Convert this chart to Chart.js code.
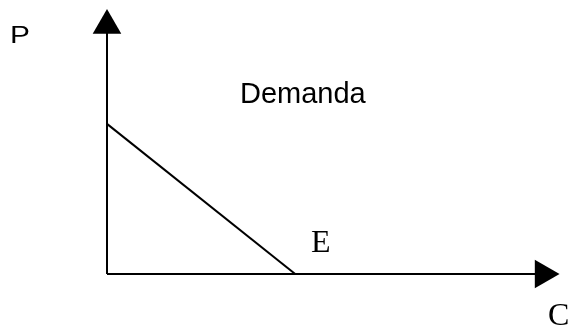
<!DOCTYPE html>
<html>
<head>
<meta charset="utf-8">
<script src="https://cdn.jsdelivr.net/npm/chart.js@4"></script>
<style>
  html, body { margin: 0; padding: 0; background: #ffffff; }
  #wrap { position: relative; width: 574px; height: 325px; overflow: hidden; }
  canvas { position: absolute; left: 0; top: 0; }
  .lbl { position: absolute; line-height: 1; color: #000; white-space: nowrap; }
  .sans { font-family: "Liberation Sans", Arial, sans-serif; }
  .serif { font-family: "Liberation Serif", "Times New Roman", serif; }
</style>
</head>
<body>
<div id="wrap">
  <canvas id="c" width="574" height="325"></canvas>
  <div class="lbl sans" style="left:10px; top:24px; font-size:23px; transform:scaleX(1.3); transform-origin:0 0;">P</div>
  <div class="lbl sans" style="left:240px; top:79px; font-size:29px;">Demanda</div>
  <div class="lbl serif" style="left:311px; top:225px; font-size:32px;">E</div>
  <div class="lbl serif" style="left:548px; top:298px; font-size:32px;">C</div>
</div>
<script>
// Data (arbitrary units 0..100)
const demandQuantity = [0, 41];
const demandPrice = [55.6, 0];
const priceAxisX = [0, 0];
const priceAxisY = [0, 92];
const quantityAxisX = [0, 95];
const quantityAxisY = [0, 0];
const scaleMax = 100;

const toPoints = (xs, ys) => xs.map((x, i) => ({ x: x, y: ys[i] }));

new Chart(document.getElementById('c'), {
  type: 'scatter',
  data: {
    datasets: [
      {
        label: 'P',
        data: toPoints(priceAxisX, priceAxisY),
        showLine: true,
        borderColor: '#000',
        borderWidth: 2,
        pointStyle: 'triangle',
        pointRadius: [0, 16.5],
        pointBackgroundColor: '#000',
        pointBorderColor: '#000',
        pointBorderWidth: 0,
        clip: false
      },
      {
        label: 'C',
        data: toPoints(quantityAxisX, quantityAxisY),
        showLine: true,
        borderColor: '#000',
        borderWidth: 2,
        pointStyle: 'triangle',
        pointRotation: 90,
        pointRadius: [0, 16.5],
        pointBackgroundColor: '#000',
        pointBorderColor: '#000',
        pointBorderWidth: 0,
        clip: false
      },
      {
        label: 'Demanda',
        data: toPoints(demandQuantity, demandPrice),
        showLine: true,
        borderColor: '#000',
        borderWidth: 2,
        pointRadius: 0,
        clip: false
      }
    ]
  },
  options: {
    responsive: false,
    animation: false,
    events: [],
    devicePixelRatio: 1,
    layout: { autoPadding: false, padding: { left: 107, right: 8, top: 4, bottom: 51 } },
    plugins: { legend: { display: false }, tooltip: { enabled: false }, title: { display: false } },
    scales: {
      x: { type: 'linear', min: 0, max: scaleMax, display: false },
      y: { type: 'linear', min: 0, max: scaleMax, display: false }
    }
  }
});
</script>
</body>
</html>
